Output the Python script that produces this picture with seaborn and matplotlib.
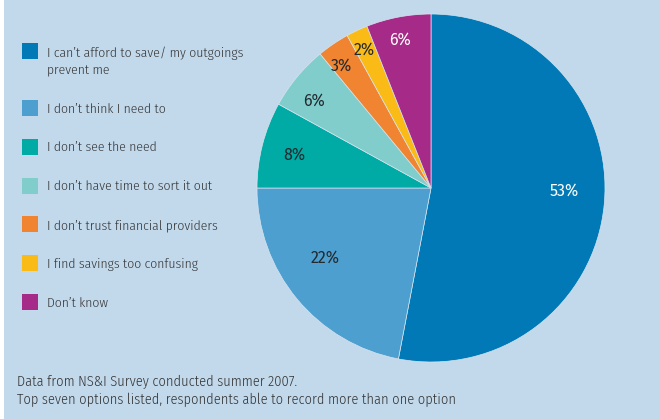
import numpy as np
import matplotlib
matplotlib.use("Agg")
import matplotlib.pyplot as plt
from matplotlib.patches import Rectangle
import seaborn as sns

# --- data -------------------------------------------------------------
reasons = [
    "I can\u2019t afford to save/ my outgoings\nprevent me",
    "I don\u2019t think I need to",
    "I don\u2019t see the need",
    "I don\u2019t have time to sort it out",
    "I don\u2019t trust financial providers",
    "I find savings too confusing",
    "Don\u2019t know",
]
shares = [53, 22, 8, 6, 3, 2, 6]
footnote = ("Data from NS&I Survey conducted summer 2007.\n"
            "Top seven options listed, respondents able to record more than one option")

# --- styling ----------------------------------------------------------
bg = "#c2d9ec"
palette = sns.color_palette(["#0079b6", "#4d9fcf", "#00aaa5", "#80cdcc",
                             "#f08431", "#fbbb17", "#a62a87"])
label_colors = ["white", "#23292d", "#23292d", "#23292d", "#23292d", "#23292d", "white"]
label_radius = [0.764, 0.728, 0.81, 0.84, 0.87, 0.88, 0.87]
label_shift = [4.3, -6.3, 0.9, 3.0, 1.9, 0.7, 1.0]

sns.set_theme(style="white")
plt.rcParams["font.family"] = ["Fira Sans Condensed", "DejaVu Sans"]
plt.rcParams["font.weight"] = 300

W, H = 659, 419
fig = plt.figure(figsize=(W / 100, H / 100), dpi=100, facecolor=bg)

# thin white margin on the left edge
fig.patches.append(Rectangle((0, 0), 4 / W, 1, transform=fig.transFigure,
                             facecolor="white", edgecolor="none", zorder=0))

# pie: centre (431, 188) px, radius 174 px
cx, cy, r = 431, 188, 174
ax = fig.add_axes([(cx - r) / W, (H - cy - r) / H, 2 * r / W, 2 * r / H])
ax.set_facecolor("none")
wedges, _ = ax.pie(shares, colors=palette, startangle=90, counterclock=False,
                   radius=1, wedgeprops=dict(edgecolor="#d6e4ef", linewidth=0.5))
ax.set_xlim(-1, 1)
ax.set_ylim(-1, 1)
ax.axis("off")

for w, v, c, d, s in zip(wedges, shares, label_colors, label_radius, label_shift):
    ang = np.deg2rad((w.theta1 + w.theta2) / 2 + s)
    ax.text(d * np.cos(ang), d * np.sin(ang), f"{v}%", ha="center", va="center",
            color=c, fontsize=11.5, family=["Fira Sans", "DejaVu Sans"],
            fontweight="normal")

# legend drawn as coloured squares and labels
sq = 16
line_gap = 19
for i, (txt, col) in enumerate(zip(reasons, palette)):
    y = 51 if i == 0 else 108 + (i - 1) * 38.8
    fig.patches.append(Rectangle((22 / W, (H - y - sq / 2) / H), sq / W, sq / H,
                                 transform=fig.transFigure, facecolor=col,
                                 edgecolor="none"))
    nlines = txt.count("\n") + 1
    fig.text(47 / W, (H - (y + 1 + (nlines - 1) * line_gap / 2)) / H, txt,
             ha="left", va="center", fontsize=9.8, color="#333333",
             linespacing=1.45)

fig.text(17 / W, (H - 390.5) / H, footnote, ha="left", va="center", fontsize=10.3,
         color="#333333", linespacing=1.35)

fig.savefig("out.png", dpi=100, facecolor=bg)
